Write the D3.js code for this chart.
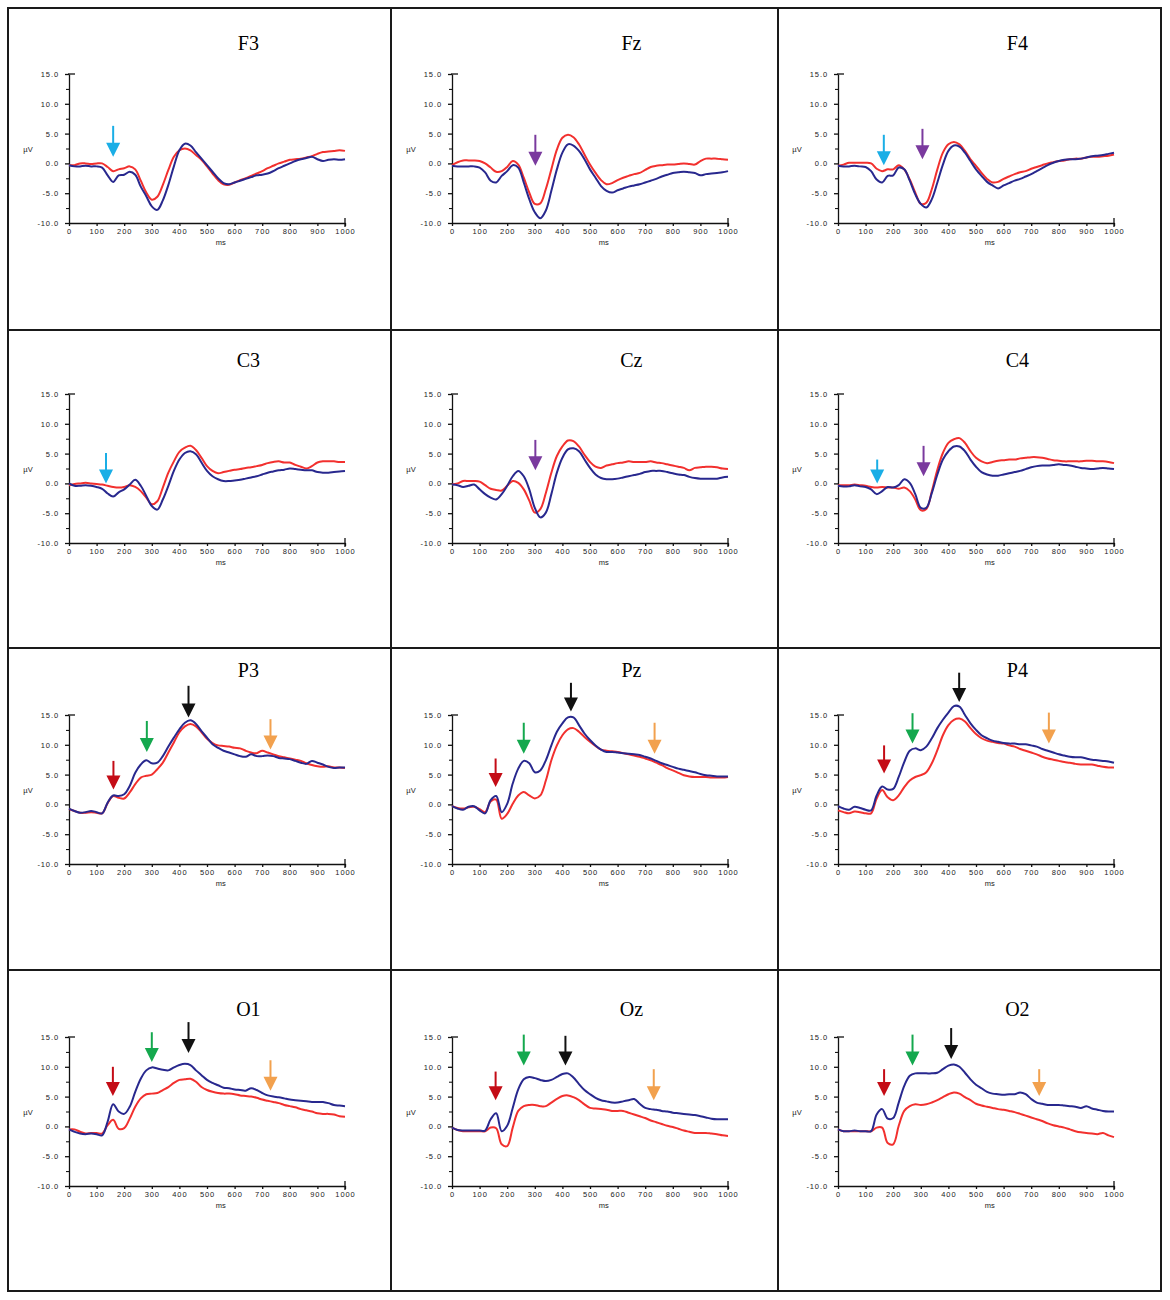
<!DOCTYPE html>
<html>
<head>
<meta charset="utf-8">
<script src="https://cdn.jsdelivr.net/npm/d3@7.9.0/dist/d3.min.js"></script>
<style>
  body { margin: 0; background: #fff; }
  svg { display: block; }
</style>
</head>
<body>
<svg id="chart" width="1170" height="1300"></svg>
<script>
// sample times (ms) shared by every waveform
const times = [0,20,40,60,80,100,120,140,160,180,200,220,240,260,280,300,320,340,360,380,
  400,420,440,460,480,500,520,540,560,580,600,620,640,660,680,700,720,740,760,780,
  800,820,840,860,880,900,920,940,960,980,1000];

const xTicks = [0,100,200,300,400,500,600,700,800,900,1000];
const yTicks = [-10,-5,0,5,10,15];
const yMinorTicks = [-7.5,-2.5,2.5,7.5,12.5];

const channels = ["F3","Fz","F4","C3","Cz","C4","P3","Pz","P4","O1","Oz","O2"];

// µV values, blue and red traces
const f3Blue = [-0.3,-0.5,-0.5,-0.4,-0.5,-0.5,-0.7,-2.0,-3.1,-2.0,-1.9,-1.4,-1.9,-3.9,-5.5,-7.2,-7.8,-6.2,-3.6,-0.5,2.2,3.3,3.0,1.9,0.8,-0.3,-1.4,-2.5,-3.3,-3.5,-3.2,-2.9,-2.6,-2.3,-2.0,-1.9,-1.7,-1.3,-0.8,-0.4,0.0,0.4,0.7,0.9,1.1,0.7,0.4,0.6,0.7,0.6,0.7];
const f3Red = [-0.3,-0.3,0.0,0.0,-0.1,0.0,0.0,-0.6,-1.3,-1.0,-0.8,-0.5,-1.0,-2.9,-4.9,-6.1,-5.6,-3.6,-1.1,1.1,2.2,2.5,2.2,1.4,0.6,-0.5,-1.7,-2.8,-3.5,-3.6,-3.2,-2.8,-2.5,-2.1,-1.7,-1.3,-0.8,-0.4,0.0,0.3,0.6,0.7,0.8,1.0,1.2,1.6,1.9,2.0,2.1,2.2,2.1];

const fzBlue = [-0.4,-0.5,-0.5,-0.5,-0.5,-0.7,-1.5,-2.9,-3.2,-2.1,-1.3,-0.3,-0.7,-3.2,-6.0,-8.2,-9.2,-7.9,-4.6,-1.0,1.8,3.2,3.0,2.1,0.7,-1.0,-2.4,-3.8,-4.6,-4.9,-4.5,-4.2,-3.9,-3.7,-3.5,-3.2,-2.9,-2.6,-2.2,-1.9,-1.6,-1.5,-1.4,-1.5,-1.6,-2.0,-1.8,-1.7,-1.6,-1.5,-1.3];
const fzRed = [-0.3,0.2,0.5,0.5,0.5,0.4,0.0,-0.7,-1.4,-1.3,-0.6,0.4,-0.2,-2.4,-4.9,-6.8,-6.7,-4.3,-1.0,2.3,4.3,4.8,4.4,3.2,1.5,-0.2,-1.6,-2.8,-3.5,-3.3,-2.8,-2.4,-2.1,-1.8,-1.6,-1.1,-0.6,-0.4,-0.3,-0.2,-0.2,-0.1,0.0,-0.1,-0.2,0.4,0.8,0.8,0.8,0.7,0.6];

const f4Blue = [-0.4,-0.5,-0.5,-0.4,-0.5,-0.6,-1.3,-2.7,-3.2,-2.1,-2.0,-0.7,-1.0,-2.9,-5.2,-6.8,-7.4,-6.0,-3.2,-0.2,2.1,3.0,2.8,1.8,0.4,-1.0,-2.1,-3.1,-3.7,-4.2,-3.7,-3.3,-2.9,-2.6,-2.2,-1.8,-1.3,-0.8,-0.3,0.1,0.4,0.6,0.7,0.7,0.8,1.0,1.2,1.3,1.4,1.6,1.8];
const f4Red = [-0.4,-0.2,0.1,0.1,0.1,0.1,0.0,-0.9,-1.3,-1.0,-1.0,-0.3,-1.0,-2.7,-4.9,-6.8,-6.6,-4.3,-1.0,1.8,3.2,3.6,3.2,2.1,0.7,-0.4,-1.6,-2.6,-3.2,-3.1,-2.6,-2.2,-1.8,-1.5,-1.3,-0.9,-0.6,-0.3,0.0,0.2,0.4,0.5,0.7,0.8,0.8,1.0,1.1,1.1,1.2,1.3,1.5];

const c3Blue = [0.0,-0.4,-0.4,-0.3,-0.4,-0.6,-0.9,-1.7,-2.2,-1.5,-1.0,-0.2,0.6,-0.4,-2.1,-3.8,-4.4,-2.7,-0.4,2.1,4.0,5.1,5.4,4.9,3.5,2.1,1.2,0.7,0.4,0.4,0.5,0.6,0.8,1.0,1.2,1.5,1.8,2.0,2.2,2.3,2.5,2.4,2.3,2.2,2.2,1.9,1.8,1.8,1.9,2.0,2.1];
const c3Red = [-0.3,-0.1,0.0,0.1,0.0,-0.1,-0.2,-0.4,-0.6,-0.7,-0.6,-0.3,-0.6,-1.3,-2.4,-3.5,-3.0,-0.7,1.8,3.7,5.3,6.0,6.3,5.6,4.3,2.9,2.1,1.7,1.9,2.1,2.3,2.4,2.6,2.7,2.9,3.1,3.4,3.6,3.7,3.5,3.5,3.1,2.8,2.5,2.9,3.5,3.7,3.7,3.7,3.6,3.6];

const czBlue = [-0.2,-0.3,-0.6,-0.4,-0.2,-1.0,-1.8,-2.4,-2.7,-1.8,-0.4,1.2,2.1,1.2,-1.0,-4.1,-5.7,-4.9,-1.8,1.8,4.3,5.7,5.9,5.4,4.0,2.6,1.5,0.9,0.7,0.7,0.8,1.0,1.2,1.4,1.6,1.9,2.1,2.1,2.1,1.9,1.7,1.5,1.4,1.1,0.9,0.8,0.8,0.8,0.8,1.0,1.1];
const czRed = [-0.2,0.0,0.4,0.4,0.4,0.3,-0.3,-0.9,-1.1,-1.2,-0.4,0.4,0.1,-1.0,-2.9,-4.9,-4.3,-1.6,1.8,4.6,6.2,7.2,7.1,6.2,4.8,3.6,2.8,2.6,3.0,3.2,3.4,3.5,3.7,3.6,3.6,3.6,3.7,3.5,3.4,3.2,3.0,2.8,2.6,2.2,2.6,2.7,2.8,2.8,2.7,2.5,2.4];

const c4Blue = [-0.4,-0.5,-0.5,-0.3,-0.5,-0.6,-1.0,-1.8,-1.3,-0.6,-0.7,-0.3,0.7,0.1,-1.8,-4.1,-4.1,-1.6,1.5,4.0,5.4,6.2,6.2,5.4,4.0,2.8,1.9,1.5,1.3,1.3,1.5,1.7,1.9,2.1,2.4,2.7,2.9,3.0,3.0,3.1,3.2,3.1,3.0,2.8,2.6,2.5,2.4,2.5,2.6,2.5,2.4];
const c4Red = [-0.3,-0.3,-0.3,-0.2,-0.3,-0.4,-0.6,-0.7,-0.6,-0.7,-0.7,-0.9,-0.7,-1.3,-2.7,-4.5,-4.3,-1.3,2.3,5.1,6.8,7.4,7.6,6.8,5.4,4.3,3.7,3.4,3.6,3.8,3.9,4.0,4.0,4.2,4.3,4.4,4.4,4.3,4.1,3.9,3.8,3.7,3.7,3.7,3.7,3.8,3.8,3.7,3.7,3.6,3.4];

const p3Blue = [-0.7,-1.1,-1.4,-1.3,-1.1,-1.3,-1.5,0.3,1.5,1.4,1.7,3.1,5.3,6.7,7.4,6.9,7.0,8.1,9.7,11.2,12.6,13.7,14.1,13.5,12.3,11.2,10.1,9.5,9.0,8.7,8.4,8.1,8.0,8.4,8.1,8.1,8.2,8.1,7.8,7.7,7.6,7.3,7.0,6.8,7.3,7.0,6.7,6.3,6.1,6.2,6.2];
const p3Red = [-0.8,-1.1,-1.4,-1.4,-1.3,-1.4,-1.5,0.2,1.4,1.1,1.0,2.0,3.4,4.5,4.8,5.0,5.9,7.0,8.7,10.4,12.1,13.1,13.5,13.1,12.1,11.0,10.3,9.9,9.8,9.7,9.5,9.4,9.0,8.7,8.6,9.0,8.7,8.4,8.1,7.9,7.7,7.5,7.3,6.9,6.6,6.4,6.3,6.4,6.2,6.2,6.1];

const pzBlue = [-0.3,-0.7,-0.9,-0.4,-0.3,-1.0,-1.5,0.7,1.4,-1.3,0.1,3.5,6.0,7.3,6.9,5.4,5.7,7.4,9.9,12.2,13.6,14.6,14.6,13.3,11.9,10.8,9.9,9.2,8.8,8.8,8.7,8.6,8.5,8.4,8.3,8.0,7.7,7.3,6.9,6.6,6.3,6.0,5.8,5.6,5.4,5.1,4.9,4.8,4.7,4.7,4.7];
const pzRed = [-0.3,-0.6,-0.7,-0.5,-0.4,-0.8,-1.3,0.5,0.8,-2.4,-1.6,0.1,1.5,2.1,1.5,1.0,1.5,4.0,7.4,9.9,11.6,12.6,12.8,12.2,11.3,10.5,9.8,9.2,9.0,8.9,8.8,8.6,8.4,8.2,8.0,7.7,7.4,7.0,6.6,6.1,5.7,5.3,4.9,4.7,4.6,4.6,4.6,4.5,4.5,4.5,4.6];

const p4Blue = [-0.3,-0.7,-0.9,-0.4,-0.6,-0.9,-1.0,1.5,3.0,2.5,2.6,4.6,7.1,9.0,9.4,9.1,9.7,11.1,12.8,14.2,15.4,16.5,16.4,15.0,13.6,12.5,11.6,11.1,10.7,10.5,10.3,10.2,10.2,10.1,10.1,9.9,9.7,9.3,9.0,8.7,8.4,8.2,8.0,7.9,7.9,7.7,7.5,7.4,7.3,7.2,7.0];
const p4Red = [-1.0,-1.3,-1.5,-1.2,-1.3,-1.5,-1.5,1.0,2.4,1.2,0.7,1.5,2.9,4.0,4.6,4.9,5.4,6.9,9.1,11.6,13.3,14.2,14.4,13.9,12.8,11.8,11.1,10.7,10.5,10.3,10.2,9.9,9.7,9.3,9.0,8.7,8.4,8.0,7.7,7.5,7.3,7.1,7.0,6.8,6.7,6.7,6.7,6.5,6.3,6.2,6.2];

const o1Blue = [-0.5,-0.9,-1.2,-1.3,-1.2,-1.3,-1.5,0.8,3.7,2.5,2.1,3.3,5.8,8.0,9.4,9.9,9.7,9.5,9.4,9.9,10.3,10.5,10.3,9.4,8.6,7.8,7.3,6.9,6.5,6.4,6.2,6.1,6.0,6.4,6.1,5.6,5.2,5.0,4.9,4.7,4.5,4.4,4.3,4.2,4.1,4.1,4.1,3.9,3.6,3.5,3.4];
const o1Red = [-0.5,-0.5,-0.9,-1.2,-1.1,-1.1,-1.2,0.2,1.1,-0.4,-0.3,1.3,3.3,4.7,5.4,5.5,5.6,6.1,6.6,7.3,7.8,7.9,8.0,7.5,6.6,6.1,5.8,5.6,5.5,5.5,5.4,5.2,5.1,5.0,4.8,4.5,4.3,4.1,3.9,3.6,3.4,3.2,2.9,2.7,2.5,2.2,2.1,2.1,2.0,1.7,1.6];

const ozBlue = [-0.2,-0.6,-0.7,-0.7,-0.7,-0.7,-0.7,1.2,2.2,-0.8,0.1,3.1,6.2,7.9,8.3,8.1,7.8,7.6,7.8,8.3,8.8,8.9,8.2,7.1,6.1,5.4,4.8,4.4,4.2,4.0,4.0,4.2,4.4,4.6,3.8,3.1,2.9,2.8,2.6,2.5,2.3,2.2,2.1,2.0,1.9,1.7,1.5,1.3,1.2,1.2,1.2];
const ozRed = [-0.2,-0.6,-0.8,-0.8,-0.8,-0.8,-0.8,-0.2,-0.3,-3.0,-3.3,-0.2,2.6,3.4,3.6,3.6,3.4,3.4,4.0,4.6,5.1,5.2,4.9,4.4,3.7,3.1,3.0,2.9,2.8,2.6,2.6,2.6,2.3,2.0,1.7,1.4,1.0,0.7,0.4,0.1,-0.1,-0.4,-0.7,-0.9,-1.1,-1.1,-1.1,-1.2,-1.3,-1.5,-1.6];

const o2Blue = [-0.5,-0.8,-0.8,-0.7,-0.8,-0.8,-0.8,2.0,2.9,1.3,1.4,4.0,6.8,8.5,8.9,8.9,8.9,8.9,9.0,9.6,10.2,10.4,10.0,9.0,7.9,7.0,6.4,5.8,5.5,5.4,5.3,5.4,5.4,5.7,5.4,4.6,4.0,3.8,3.6,3.6,3.6,3.5,3.4,3.3,3.1,3.4,3.0,2.8,2.6,2.5,2.5];
const o2Red = [-0.5,-0.8,-0.8,-0.8,-0.8,-0.8,-0.8,-0.2,-0.2,-2.8,-3.0,0.1,2.6,3.4,3.7,3.6,3.7,4.0,4.4,4.9,5.4,5.7,5.5,4.9,4.4,3.8,3.5,3.3,3.1,2.9,2.8,2.6,2.4,2.1,1.8,1.5,1.2,0.9,0.5,0.2,0.0,-0.2,-0.5,-0.8,-1.0,-1.1,-1.2,-1.3,-1.1,-1.5,-1.8];

// arrows: [colour name, ms, top µV, tip µV]
const f3Arrows = [["cyan",160,6.3,1.1]];
const fzArrows = [["purple",302,4.8,-0.4]];
const f4Arrows = [["cyan",166,4.8,-0.3],["purple",306,5.8,0.7]];
const c3Arrows = [["cyan",134,5.1,0.0]];
const czArrows = [["purple",302,7.3,2.2]];
const c4Arrows = [["cyan",142,4.0,0.0],["purple",310,6.3,1.2]];
const p3Arrows = [["red",161,7.3,2.5],["green",282,14.0,8.8],["black",433,19.9,14.6],["orange",730,14.3,9.2]];
const pzArrows = [["red",158,7.7,2.9],["green",260,13.7,8.5],["black",431,20.4,15.6],["orange",734,13.7,8.5]];
const p4Arrows = [["red",167,9.9,5.2],["green",270,15.3,10.2],["black",439,22.1,17.2],["orange",764,15.4,10.2]];
const o1Arrows = [["red",159,10.0,5.1],["green",300,15.8,10.8],["black",433,17.5,12.3],["orange",730,11.1,6.0]];
const ozArrows = [["red",158,9.2,4.4],["green",260,15.4,10.2],["black",411,15.2,10.2],["orange",731,9.6,4.4]];
const o2Arrows = [["red",167,9.6,5.1],["green",270,15.4,10.2],["black",410,16.5,11.3],["orange",729,9.6,5.1]];

const blueSeries = [f3Blue, fzBlue, f4Blue, c3Blue, czBlue, c4Blue, p3Blue, pzBlue, p4Blue, o1Blue, ozBlue, o2Blue];
const redSeries = [f3Red, fzRed, f4Red, c3Red, czRed, c4Red, p3Red, pzRed, p4Red, o1Red, ozRed, o2Red];
const arrowSets = [f3Arrows, fzArrows, f4Arrows, c3Arrows, czArrows, c4Arrows, p3Arrows, pzArrows, p4Arrows, o1Arrows, ozArrows, o2Arrows];

const arrowColors = {
  cyan: "#1aaee6", purple: "#7a3a9e", red: "#c40c16",
  green: "#14a84e", black: "#111", orange: "#f2a14e"
};

// grid layout
const colEdges = [8, 391, 778, 1161];
const rowEdges = [8, 330, 648, 970, 1291];
const plotLeft = [69, 452, 838];
const plotTops = [74, 394, 715, 1037];
const titleBase = [50, 367, 677, 1016];
const plotW = 276, plotH = 149;
const smallFont = "'Liberation Sans', Arial, sans-serif";

const svg = d3.select("#chart");

// panel borders
const border = svg.append("g").attr("stroke", "#1a1a1a").attr("stroke-width", 2);
colEdges.forEach(cx => border.append("line")
  .attr("x1", cx).attr("x2", cx).attr("y1", rowEdges[0] - 1).attr("y2", rowEdges[4] + 1));
rowEdges.forEach(ry => border.append("line")
  .attr("x1", colEdges[0] - 1).attr("x2", colEdges[3] + 1).attr("y1", ry).attr("y2", ry));

channels.forEach((name, i) => {
  const col = i % 3, row = Math.floor(i / 3);
  const x = d3.scaleLinear().domain([0, 1000]).range([plotLeft[col], plotLeft[col] + plotW]);
  const y = d3.scaleLinear().domain([-10, 15]).range([plotTops[row] + plotH, plotTops[row]]);
  const g = svg.append("g");

  // title
  g.append("text")
    .attr("x", x(650)).attr("y", titleBase[row])
    .attr("text-anchor", "middle")
    .style("font-family", "'Liberation Serif', 'DejaVu Serif', serif")
    .style("font-size", "20px")
    .text(name);

  // y axis with minor ticks
  const yAxis = g.append("g")
    .attr("transform", `translate(${x(0)},0)`)
    .call(d3.axisLeft(y).tickValues(yTicks).tickSize(4).tickSizeOuter(0)
      .tickPadding(6).tickFormat(d => d.toFixed(1)));
  g.append("g")
    .attr("transform", `translate(${x(0)},0)`)
    .call(d3.axisLeft(y).tickValues(yMinorTicks).tickSize(3).tickFormat(""))
    .select(".domain").remove();

  // x axis
  const xAxis = g.append("g")
    .attr("transform", `translate(0,${y(-10)})`)
    .call(d3.axisBottom(x).tickValues(xTicks).tickSize(3).tickSizeOuter(0)
      .tickPadding(3).tickFormat(d => String(d)));

  [yAxis, xAxis].forEach(a => {
    a.selectAll("text")
      .style("font-family", smallFont)
      .style("font-size", "7.5px")
      .style("letter-spacing", "0.9px")
      .attr("fill", "#222");
    a.selectAll("line, path").attr("stroke", "#111").attr("stroke-width", 1.3);
  });

  // axis end caps
  g.append("line")
    .attr("x1", x(0) - 1).attr("x2", x(0) + 6)
    .attr("y1", y(15)).attr("y2", y(15))
    .attr("stroke", "#111").attr("stroke-width", 1.3);
  g.append("line")
    .attr("x1", x(1000)).attr("x2", x(1000))
    .attr("y1", y(-10) - 5).attr("y2", y(-10) + 4)
    .attr("stroke", "#111").attr("stroke-width", 1.3);

  // axis labels
  g.append("text")
    .attr("x", x(0) - 41).attr("y", y(2.5) + 3)
    .attr("text-anchor", "middle")
    .style("font-family", smallFont)
    .style("font-size", "7.5px")
    .attr("fill", "#222")
    .text("µV");
  g.append("text")
    .attr("x", x(550)).attr("y", y(-10) + 22)
    .attr("text-anchor", "middle")
    .style("font-family", smallFont)
    .style("font-size", "7.5px")
    .attr("fill", "#222")
    .text("ms");

  // waveforms
  const line = d3.line()
    .x((d, k) => x(times[k]))
    .y(d => y(d))
    .curve(d3.curveCatmullRom.alpha(0.5));

  g.append("path")
    .attr("d", line(redSeries[i]))
    .attr("fill", "none")
    .attr("stroke", "#f2302e")
    .attr("stroke-width", 2);
  g.append("path")
    .attr("d", line(blueSeries[i]))
    .attr("fill", "none")
    .attr("stroke", "#28288e")
    .attr("stroke-width", 2);

  // arrows
  arrowSets[i].forEach(([c, ms, top, tip]) => {
    const ax = x(ms), yTop = y(top), yTip = y(tip);
    const headH = 14, headW = 7;
    const colour = arrowColors[c];
    g.append("line")
      .attr("x1", ax).attr("x2", ax)
      .attr("y1", yTop).attr("y2", yTip - headH + 1)
      .attr("stroke", colour).attr("stroke-width", 2);
    g.append("path")
      .attr("d", `M${ax - headW},${yTip - headH} L${ax + headW},${yTip - headH} L${ax},${yTip} Z`)
      .attr("fill", colour);
  });
});
</script>
</body>
</html>
